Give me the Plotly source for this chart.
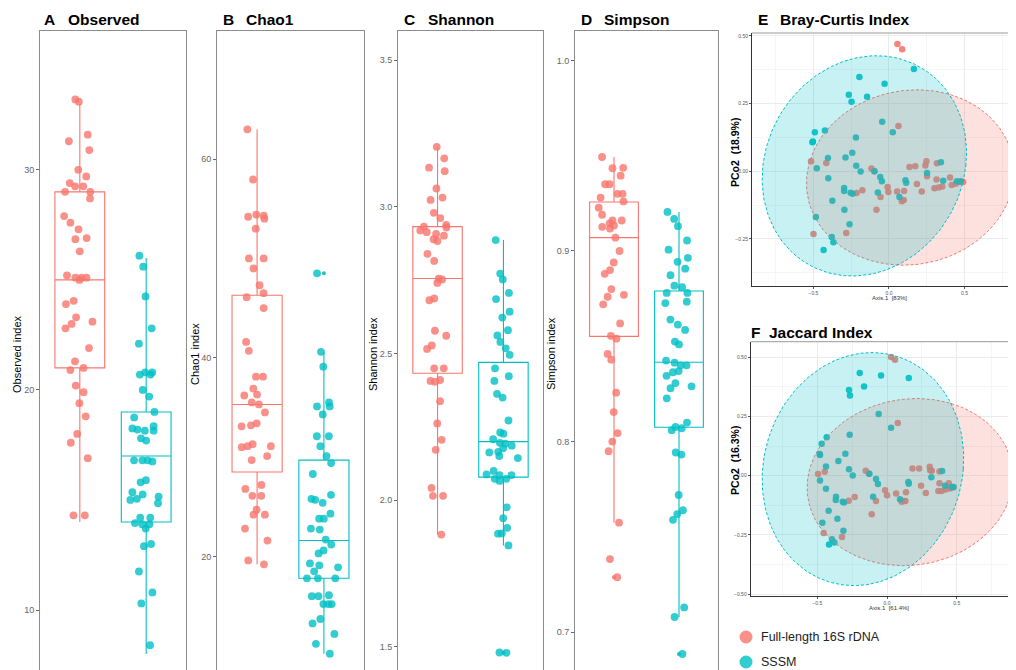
import numpy as np
import plotly.graph_objects as go

# ---------------- data ----------------
groups = ["Full-length 16S rDNA", "SSSM"]
RED = "#F8766D"
CYAN = "#00BFC4"

# Observed
obs_full = [33.1, 33.2, 31.6, 31.3, 30.9, 30.0, 29.7, 29.4, 29.25, 29.25, 29.0, 29.0, 28.7, 27.9, 27.6,
            27.3, 26.9, 26.85, 26.3, 25.2, 25.1, 25.1, 25.1, 25.0, 24.05, 23.9, 23.3, 23.1, 23.0, 22.8,
            21.9, 21.3, 21.0, 20.9, 20.2, 19.9, 19.4, 18.8, 18.0, 17.6, 16.9, 14.3, 14.3]
obs_sssm = [26.1, 25.6, 24.25, 22.8, 22.1, 20.8, 20.8, 20.7, 20.7, 20.0, 19.7, 19.0, 18.75, 18.35, 18.25,
            18.2, 18.15, 18.15, 17.8, 17.7, 16.8, 16.8, 16.8, 16.75, 15.9, 15.8, 15.35, 15.25, 15.15, 15.05,
            15.0, 14.85, 14.2, 14.2, 13.95, 13.9, 13.9, 13.7, 13.0, 12.9, 11.75, 10.8, 10.3, 8.4]
obs_box = dict(q1=[21.0, 14.0], median=[25.0, 17.0], q3=[29.0, 19.0], lf=[14.0, 8.0], uf=[33.0, 26.0])
obs_out = [[], []]

# Chao1
chao_full = [63.0, 57.95, 54.4, 54.3, 54.2, 54.0, 53.0, 50.0, 50.0, 49.0, 47.3, 46.5, 46.1, 45.0, 41.6,
             40.7, 38.1, 38.1, 36.9, 36.3, 36.2, 35.5, 35.3, 34.5, 33.4, 33.2, 33.1, 31.3, 31.1, 31.1,
             31.0, 30.1, 29.7, 27.2, 26.8, 26.1, 26.1, 24.7, 24.2, 24.2, 22.8, 21.6, 19.6, 19.2]
chao_sssm = [48.5, 40.6, 39.1, 35.5, 35.1, 35.1, 34.3, 32.1, 32.1, 31.1, 30.1, 29.4, 28.3, 26.2, 25.8,
             25.7, 25.4, 24.3, 23.8, 23.8, 22.8, 22.7, 21.7, 21.2, 20.6, 20.3, 19.3, 19.1, 18.9, 18.5,
             17.8, 17.8, 17.8, 16.1, 16.0, 16.0, 15.2, 15.2, 15.2, 13.7, 13.25, 12.2, 11.2, 10.2]
chao_box = dict(q1=[28.5, 17.8], median=[35.3, 21.6], q3=[46.3, 29.7], lf=[19.2, 10.2], uf=[63.0, 40.6])
chao_out = [[], [48.5]]

# Shannon
shan_full = [3.205, 3.166, 3.134, 3.122, 3.063, 3.032, 3.024, 2.98, 2.962, 2.939, 2.933, 2.93, 2.92, 2.914,
             2.908, 2.902, 2.89, 2.884, 2.84, 2.816, 2.756, 2.753, 2.741, 2.688, 2.682, 2.578, 2.561, 2.528,
             2.516, 2.45, 2.45, 2.41, 2.407, 2.404, 2.338, 2.262, 2.206, 2.172, 2.042, 2.015, 2.015, 1.883]
shan_sssm = [2.887, 2.773, 2.753, 2.707, 2.686, 2.643, 2.623, 2.58, 2.562, 2.54, 2.518, 2.496, 2.45, 2.423,
             2.407, 2.363, 2.35, 2.272, 2.231, 2.227, 2.208, 2.196, 2.193, 2.186, 2.177, 2.165, 2.163, 2.151,
             2.144, 2.1, 2.088, 2.086, 2.086, 2.073, 2.073, 2.066, 1.976, 1.939, 1.906, 1.887, 1.886, 1.846,
             1.481, 1.48]
shan_box = dict(q1=[2.433, 2.079], median=[2.756, 2.2], q3=[2.933, 2.47], lf=[1.883, 1.846], uf=[3.205, 2.887])
shan_out = [[], [1.48]]

# Simpson
simp_full = [0.9493, 0.9436, 0.9434, 0.9395, 0.935, 0.935, 0.930, 0.930, 0.928, 0.926, 0.9227, 0.919, 0.916,
             0.916, 0.9145, 0.9134, 0.9127, 0.9118, 0.907, 0.900, 0.894, 0.890, 0.888, 0.880, 0.877, 0.876,
             0.872, 0.862, 0.8555, 0.854, 0.846, 0.843, 0.8257, 0.8155, 0.8045, 0.800, 0.795, 0.7575, 0.7384,
             0.7289]
simp_sssm = [0.9205, 0.9168, 0.913, 0.9055, 0.9007, 0.8964, 0.8943, 0.8907, 0.8873, 0.8818, 0.881, 0.878,
             0.878, 0.8734, 0.8727, 0.864, 0.8614, 0.8586, 0.8525, 0.851, 0.8425, 0.8414, 0.840, 0.840, 0.837,
             0.8364, 0.8345, 0.8307, 0.829, 0.828, 0.8227, 0.810, 0.8077, 0.807, 0.806, 0.7943, 0.7932,
             0.772, 0.764, 0.762, 0.759, 0.713, 0.708, 0.6886]
simp_box = dict(q1=[0.8552, 0.8075], median=[0.907, 0.8416], q3=[0.9257, 0.879], lf=[0.7575, 0.708],
                uf=[0.9493, 0.9205])
simp_out = [[0.7289], [0.6886]]

# PCoA Bray-Curtis (E)
bc_full_x = [0.056, 0.087, 0.0625, -0.516, -0.415, -0.116, -0.098, 0.136, 0.174, 0.248, 0.241, 0.252, 0.317,
             0.315, 0.404, -0.009, 0.185, 0.217, 0.054, 0.100, 0.301, 0.330, 0.353, 0.415, 0.442, 0.466,
             0.491, -0.004, -0.056, -0.214, -0.176, 0.085, 0.098, -0.083, -0.5, -0.283]
bc_full_y = [0.470, 0.451, 0.167, 0.037, 0.031, 0.010, 0.0, 0.016, 0.0185, 0.037, 0.021, -0.0185, 0.030,
             -0.030, -0.023, -0.058, -0.047, -0.075, -0.075, -0.073, -0.063, -0.060, -0.056, -0.051, -0.046,
             -0.040, -0.040, -0.077, -0.095, -0.080, -0.070, -0.111, -0.106, -0.142, -0.232, -0.228]
bc_sssm_x = [0.165, -0.196, -0.029, -0.266, -0.145, -0.248, -0.045, 0.025, -0.491, -0.424, -0.504, -0.507,
             -0.219, -0.243, -0.404, -0.288, -0.478, -0.217, -0.188, -0.096, -0.058, -0.047, -0.402, 0.109,
             0.114, 0.252, 0.344, 0.359, 0.449, 0.475, -0.297, -0.297, -0.254, -0.241, -0.074, 0.069, -0.375,
             -0.295, -0.484, -0.261, -0.379, -0.368, -0.433]
bc_sssm_y = [0.378, 0.348, 0.323, 0.283, 0.275, 0.257, 0.183, 0.144, 0.144, 0.151, 0.110, 0.107, 0.125,
             0.068, 0.049, 0.051, 0.011, 0.020, -0.001, 0.0, -0.021, -0.037, -0.026, -0.033, -0.042, -0.006,
             0.033, -0.035, -0.037, -0.037, -0.062, -0.073, -0.079, -0.083, -0.078, -0.095, -0.109, -0.142,
             -0.169, -0.196, -0.243, -0.262, -0.291]

# PCoA Jaccard (F)
jc_full_x = [0.029, 0.057, 0.077, -0.495, -0.447, -0.153, -0.129, 0.182, 0.230, 0.306, 0.309, 0.321, 0.376,
             0.376, 0.443, -0.014, 0.0, 0.065, 0.136, 0.244, 0.278, 0.368, 0.392, 0.452, 0.421, 0.476, -0.275,
             -0.232, -0.079, 0.105, 0.122, 0.132, -0.110, -0.455, -0.323]
jc_full_y = [0.501, 0.490, 0.223, 0.007, 0.017, 0.021, 0.008, 0.031, 0.030, 0.038, 0.023, 0.021, 0.018,
             -0.032, -0.032, -0.061, -0.082, -0.075, -0.070, -0.042, -0.073, -0.065, -0.065, -0.054, -0.058,
             -0.049, -0.106, -0.090, -0.107, -0.110, -0.107, -0.107, -0.163, -0.242, -0.259]
jc_sssm_x = [-0.196, -0.043, 0.156, -0.165, -0.273, -0.266, -0.060, 0.029, -0.433, -0.268, -0.469, -0.483,
             -0.481, -0.299, -0.349, -0.438, -0.273, -0.246, -0.127, -0.079, -0.065, -0.481, 0.153, 0.156,
             0.318, 0.395, 0.416, 0.464, 0.476, -0.438, -0.366, -0.368, -0.318, -0.309, -0.100, 0.093, -0.419,
             -0.356, -0.464, -0.313, -0.395, -0.378, -0.416]
jc_sssm_y = [0.434, 0.423, 0.413, 0.377, 0.362, 0.339, 0.261, 0.203, 0.162, 0.173, 0.135, 0.092, 0.087,
             0.093, 0.062, 0.039, 0.027, 0.001, 0.008, -0.014, -0.035, -0.020, -0.027, -0.034, -0.007, 0.020,
             -0.042, -0.048, -0.048, -0.055, -0.089, -0.103, -0.110, -0.113, -0.089, -0.099, -0.148, -0.182,
             -0.199, -0.232, -0.268, -0.282, -0.290]

# ellipse parameters (centre x, centre y, semi-x, semi-y, shear)
bc_ell = {"full": (0.141, -0.023, 0.686, 0.324, 0.045), "sssm": (-0.163, 0.020, 0.672, 0.407, 0.08)}
jc_ell = {"full": (0.165, -0.027, 0.737, 0.353, 0.048), "sssm": (-0.173, 0.028, 0.720, 0.492, 0.065)}

# ---------------- figure ----------------
# the page places the figure 8px in from the top-left corner; reference pixel
# positions are converted to paper fractions accounting for that offset
W, H = 1016, 670
OFF = 8


def px(x):
    return (x - OFF) / W


def py(y):
    return 1 - (y - OFF) / H


fig = go.Figure()
FONT = "Liberation Sans, Arial, sans-serif"

panels = [
    ("A", "Observed", "Observed index", obs_full, obs_sssm, obs_box, obs_out, (40, 186), (6.91, 36.31), [10, 20, 30], None, 17),
    ("B", "Chao1", "Chao1 index", chao_full, chao_sssm, chao_box, chao_out, (217, 364), (7.76, 72.9), [20, 40, 60], None, 195),
    ("C", "Shannon", "Shannon index", shan_full, shan_sssm, shan_box, shan_out, (398, 543), (1.394, 3.60), [1.5, 2.0, 2.5, 3.0, 3.5], ".1f", 373),
    ("D", "Simpson", "Simpson index", simp_full, simp_sssm, simp_box, simp_out, (575, 718), (0.676, 1.0154), [0.7, 0.8, 0.9, 1.0], ".1f", 551),
]
title_pos = {"A": (42, 66), "B": (221, 244), "C": (402, 426), "D": (579, 602)}

annotations = []
shapes = []

for i, (letter, ttl, ylab, vfull, vsssm, box, outl, xpx, yr, tv, tf, ylabx) in enumerate(panels):
    n = i + 1
    xa = "x" if n == 1 else f"x{n}"
    ya = "y" if n == 1 else f"y{n}"
    cols = [RED, CYAN]
    for g in range(2):
        fig.add_trace(go.Box(
            x=[g], q1=[box["q1"][g]], median=[box["median"][g]], q3=[box["q3"][g]],
            lowerfence=[box["lf"][g]], upperfence=[box["uf"][g]],
            boxpoints=False, width=0.75, whiskerwidth=0,
            line=dict(color=cols[g], width=1.1), fillcolor="rgba(255,255,255,0)",
            xaxis=xa, yaxis=ya, showlegend=False, hoverinfo="skip"))
        if outl[g]:
            fig.add_trace(go.Scatter(
                x=[g] * len(outl[g]), y=outl[g], mode="markers",
                marker=dict(color=cols[g], size=4, opacity=0.9),
                xaxis=xa, yaxis=ya, showlegend=False, hoverinfo="skip"))
        vals = vfull if g == 0 else vsssm
        fig.add_trace(go.Box(
            y=vals, x0=g, boxpoints="all", jitter=0.75, pointpos=0, width=0.75,
            line=dict(width=0), fillcolor="rgba(0,0,0,0)",
            marker=dict(color=cols[g], size=7.8, opacity=0.8, line=dict(width=0)),
            xaxis=xa, yaxis=ya, showlegend=False, hoverinfo="skip"))
    fig.update_layout(**{
        ("xaxis" if n == 1 else f"xaxis{n}"): dict(
            domain=[px(xpx[0]), px(xpx[1])], range=[-0.6, 1.6], showticklabels=False, ticks="",
            showgrid=False, zeroline=False, showline=True, side="top", linecolor="#8c8c8c", linewidth=1,
            anchor=ya),
        ("yaxis" if n == 1 else f"yaxis{n}"): dict(
            domain=[0, py(31)], range=list(yr), tickvals=tv, tickformat=tf, ticks="outside", ticklen=3,
            tickcolor="#666", tickfont=dict(size=9, color="#666", family=FONT), showgrid=False,
            zeroline=False, showline=True, mirror=True, linecolor="#8c8c8c", linewidth=1, anchor=xa),
    })
    lx, tx = title_pos[letter]
    annotations.append(dict(x=px(lx), y=py(19), xref="paper", yref="paper", text=f"<b>{letter}</b>",
                            showarrow=False, xanchor="left", yanchor="middle",
                            font=dict(size=15.5, color="black", family=FONT)))
    annotations.append(dict(x=px(tx), y=py(19), xref="paper", yref="paper", text=f"<b>{ttl}</b>",
                            showarrow=False, xanchor="left", yanchor="middle",
                            font=dict(size=15.5, color="black", family=FONT)))
    annotations.append(dict(x=px(ylabx), y=py(354), xref="paper", yref="paper", text=ylab, textangle=-90,
                            showarrow=False, xanchor="center", yanchor="middle",
                            font=dict(size=11, color="black", family=FONT)))


def ellipse(p, m=241):
    cx, cy, a, b, k = p
    t = np.linspace(0, 2 * np.pi, m)
    return cx + a * np.cos(t) + k * np.sin(t), cy + b * np.sin(t)


# right edge of the visible page (1016) maps to paper x = px(1016)
XR = px(1016)
pcoa = [
    (5, "E", "Bray-Curtis Index", bc_full_x, bc_full_y, bc_sssm_x, bc_sssm_y, bc_ell,
     (752, 1016), (33, 286), (-0.907, 0.841), (-0.424, 0.511), "Axis.1  [83%]", "PCo2  (18.9%)",
     (756, 778, 20), 153, 298),
    (6, "F", "Jaccard Index", jc_full_x, jc_full_y, jc_sssm_x, jc_sssm_y, jc_ell,
     (750.7, 1016), (341.7, 596), (-0.978, 0.925), (-0.508, 0.566), "Axis.1  [61.4%]", "PCo2  (16.3%)",
     (749, 767, 332), 461, 608),
]
for (n, letter, ttl, fx, fy, sx, sy, ell, xpx, ypx, xr, yr, xt, yt, tpos, ytc, xty) in pcoa:
    xa, ya = f"x{n}", f"y{n}"
    fig.add_trace(go.Scatter(x=fx, y=fy, mode="markers", marker=dict(color=RED, size=6.5, opacity=0.9),
                             xaxis=xa, yaxis=ya, showlegend=False, hoverinfo="skip"))
    fig.add_trace(go.Scatter(x=sx, y=sy, mode="markers", marker=dict(color=CYAN, size=6.5, opacity=0.9),
                             xaxis=xa, yaxis=ya, showlegend=False, hoverinfo="skip"))
    for key, col, fc in [("full", RED, "rgba(248,118,109,0.22)"), ("sssm", CYAN, "rgba(0,191,196,0.22)")]:
        ex, ey = ellipse(ell[key])
        fig.add_trace(go.Scatter(x=ex, y=ey, mode="lines", fill="toself", fillcolor=fc,
                                 line=dict(color=col, width=1, dash="3px,2px"),
                                 xaxis=xa, yaxis=ya, showlegend=False, hoverinfo="skip"))
    fig.update_layout(**{
        f"xaxis{n}": dict(domain=[px(xpx[0]), XR], range=list(xr), dtick=0.5, tick0=0, tickformat=".1f",
                          ticks="outside", ticklen=2, tickcolor="#555", tickfont=dict(size=5, color="#555", family=FONT),
                          showgrid=True, gridcolor="#ebebeb", gridwidth=0.8, zeroline=False,
                          minor=dict(dtick=0.25, tick0=0, showgrid=True, gridcolor="#f5f5f5", gridwidth=0.6),
                          showline=True, linecolor="#333", linewidth=1, anchor=ya),
        f"yaxis{n}": dict(domain=[py(ypx[1]), py(ypx[0])], range=list(yr), dtick=0.25, tick0=0,
                          tickformat=".2f", ticks="outside", ticklen=2, tickcolor="#555",
                          tickfont=dict(size=5, color="#555", family=FONT),
                          showgrid=True, gridcolor="#ebebeb", gridwidth=0.8, zeroline=False,
                          minor=dict(dtick=0.125, tick0=0, showgrid=True, gridcolor="#f5f5f5", gridwidth=0.6),
                          showline=True, linecolor="#333", linewidth=1, anchor=xa),
    })
    shapes.append(dict(type="line", xref="paper", yref="paper", x0=px(xpx[0]), x1=XR,
                       y0=py(ypx[0]), y1=py(ypx[0]), line=dict(color="#9a9a9a", width=1)))
    annotations.append(dict(x=px(tpos[0]), y=py(tpos[2]), xref="paper", yref="paper", text=f"<b>{letter}</b>",
                            showarrow=False, xanchor="left", yanchor="middle",
                            font=dict(size=15.5, color="black", family=FONT)))
    annotations.append(dict(x=px(tpos[1]), y=py(tpos[2]), xref="paper", yref="paper", text=f"<b>{ttl}</b>",
                            showarrow=False, xanchor="left", yanchor="middle",
                            font=dict(size=15.5, color="black", family=FONT)))
    annotations.append(dict(x=px(735), y=py(ytc), xref="paper", yref="paper", text=f"<b>{yt}</b>",
                            textangle=-90, showarrow=False, xanchor="center", yanchor="middle",
                            font=dict(size=10.5, color="black", family=FONT)))
    annotations.append(dict(x=px(889), y=py(xty), xref="paper", yref="paper", text=xt,
                            showarrow=False, xanchor="center", yanchor="middle",
                            font=dict(size=6, color="#333", family=FONT)))

# legend (manual)
for lab, col, yy in [(groups[0], RED, 637), (groups[1], CYAN, 662)]:
    shapes.append(dict(type="circle", xref="paper", yref="paper", xsizemode="pixel", ysizemode="pixel",
                       xanchor=px(746), yanchor=py(yy), x0=-6.5, x1=6.5, y0=-6.5, y1=6.5,
                       fillcolor=col, opacity=0.8, line=dict(width=0)))
    annotations.append(dict(x=px(759), y=py(yy), xref="paper", yref="paper", text=lab, showarrow=False,
                            xanchor="left", yanchor="middle", font=dict(size=12.5, color="#222", family=FONT)))

fig.update_layout(width=W, height=H, margin=dict(l=0, r=0, t=0, b=0), paper_bgcolor="white",
                  plot_bgcolor="white", showlegend=False, boxmode="overlay",
                  annotations=annotations, shapes=shapes, font=dict(family=FONT))

fig.write_html("out.html")
